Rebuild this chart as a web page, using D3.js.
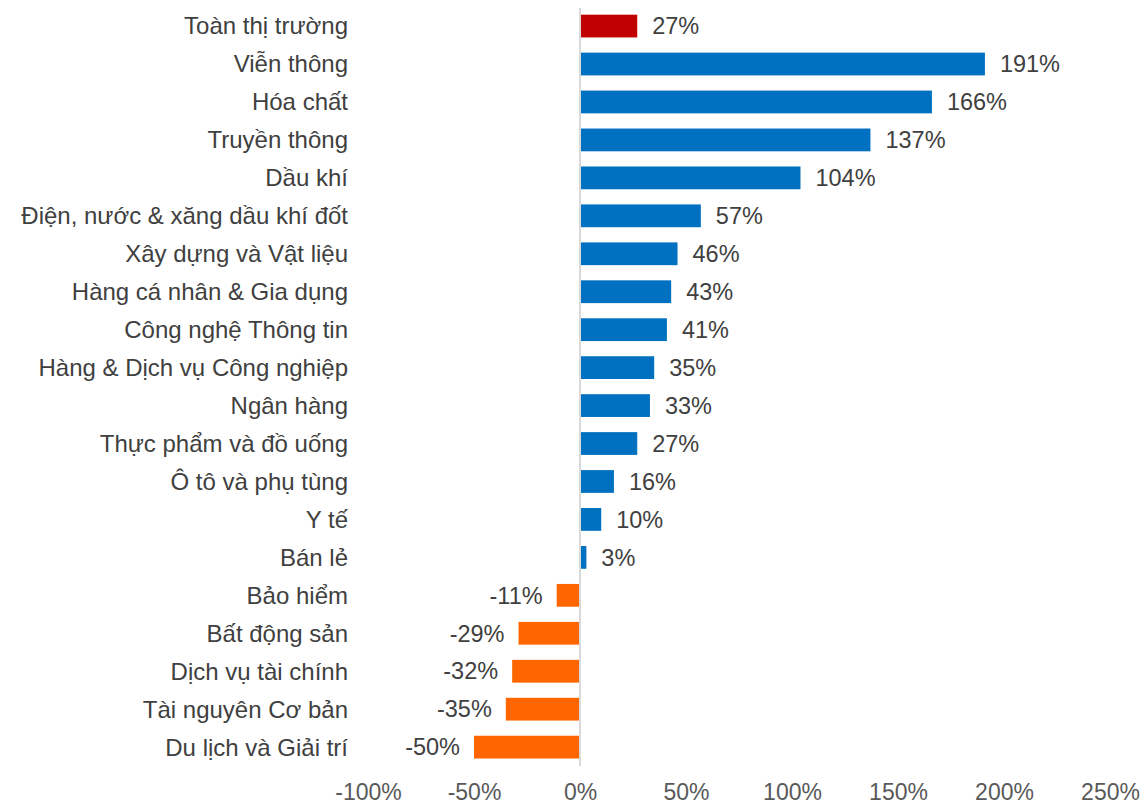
<!DOCTYPE html>
<html>
<head>
<meta charset="utf-8">
<script src="https://cdn.jsdelivr.net/npm/d3@7"></script>
<style>
  body { margin: 0; background: #fff; }
  text { font-family: "Liberation Sans", Arial, sans-serif; }
</style>
</head>
<body>
<div id="chart"></div>
<script>
// Sector names, top to bottom
const sectors = [
  "Toàn thị trường", "Viễn thông", "Hóa chất", "Truyền thông", "Dầu khí",
  "Điện, nước & xăng dầu khí đốt", "Xây dựng và Vật liệu", "Hàng cá nhân & Gia dụng",
  "Công nghệ Thông tin", "Hàng & Dịch vụ Công nghiệp", "Ngân hàng",
  "Thực phẩm và đồ uống", "Ô tô và phụ tùng", "Y tế", "Bán lẻ", "Bảo hiểm",
  "Bất động sản", "Dịch vụ tài chính", "Tài nguyên Cơ bản", "Du lịch và Giải trí"
];
// Change in %
const changes = [27, 191, 166, 137, 104, 57, 46, 43, 41, 35, 33, 27, 16, 10, 3, -11, -29, -32, -35, -50];
const xTicks = [-100, -50, 0, 50, 100, 150, 200, 250];

const width = 1140, height = 804;
const data = sectors.map((s, i) => ({ name: s, value: changes[i], market: i === 0 }));

const svg = d3.select('#chart').append('svg')
    .attr('width', width)
    .attr('height', height);

const xScale = d3.scaleLinear()
    .domain([-100, 250])
    .range([368, 1110]);

const yScale = d3.scaleBand()
    .domain(sectors)
    .range([-0.5, 773.7])
    .paddingInner(0.4)
    .paddingOuter(0.4);

const color = d => d.market ? '#c00000' : (d.value >= 0 ? '#0070c0' : '#ff6600');

// Bars
svg.selectAll('.bar')
    .data(data)
    .join('rect')
    .attr('class', 'bar')
    .attr('x', d => xScale(Math.min(0, d.value)))
    .attr('width', d => Math.abs(xScale(d.value) - xScale(0)))
    .attr('y', d => yScale(d.name))
    .attr('height', yScale.bandwidth())
    .attr('fill', color);

// Zero line
svg.append('line')
    .attr('x1', xScale(0)).attr('x2', xScale(0))
    .attr('y1', 8).attr('y2', 766)
    .attr('stroke', '#d9d9d9')
    .attr('stroke-width', 2);

// Category labels
svg.selectAll('.cat')
    .data(data)
    .join('text')
    .attr('class', 'cat')
    .attr('x', 348)
    .attr('y', d => yScale(d.name) + yScale.bandwidth() / 2)
    .attr('dy', '0.35em')
    .attr('text-anchor', 'end')
    .attr('fill', '#404040')
    .style('font-size', '24px')
    .text(d => d.name);

// Value labels
svg.selectAll('.val')
    .data(data)
    .join('text')
    .attr('class', 'val')
    .attr('x', d => d.value >= 0 ? xScale(d.value) + 15 : xScale(d.value) - 14)
    .attr('y', d => yScale(d.name) + yScale.bandwidth() / 2)
    .attr('dy', '0.35em')
    .attr('text-anchor', d => d.value >= 0 ? 'start' : 'end')
    .attr('fill', '#404040')
    .style('font-size', '23.5px')
    .text(d => d.value + '%');

// X axis labels
const xAxis = d3.axisBottom(xScale)
    .tickValues(xTicks)
    .tickSize(0)
    .tickPadding(0)
    .tickFormat(d => d + '%');

svg.append('g')
    .attr('transform', 'translate(0,783)')
    .call(xAxis)
    .call(g => g.select('.domain').remove())
    .call(g => g.selectAll('text')
        .attr('dy', '0.72em')
        .attr('fill', '#595959')
        .style('font-size', '23px')
        .style('font-family', '"Liberation Sans", Arial, sans-serif'));
</script>
</body>
</html>
